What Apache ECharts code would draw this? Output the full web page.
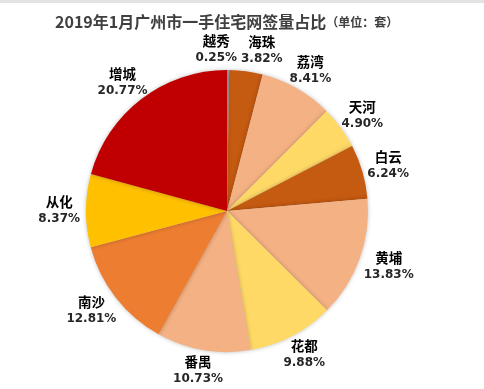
<!DOCTYPE html>
<html><head><meta charset="utf-8">
<script src="https://cdn.jsdelivr.net/npm/echarts@6/dist/echarts.min.js"></script>
<style>html,body{margin:0;padding:0;background:#fff;}#c{width:484px;height:389px;border-top:3px solid #e3e3e3;box-sizing:border-box;}</style>
</head><body><div id="c"></div>
<script>
const categories = ['越秀','海珠','荔湾','天河','白云','黄埔','花都','番禺','南沙','从化','增城'];
const shares = [0.25, 3.82, 8.41, 4.90, 6.24, 13.83, 9.88, 10.73, 12.81, 8.37, 20.77];
const colors = ['#9aa6b8','#c55a11','#f4b183','#ffd966','#c55a11','#f4b183','#ffd966','#f4b183','#ed7d31','#ffc000','#c00000'];

const CX = 227, CY = 208, R = 141, GAP = 6, LINE_H = 17;
const NAME_FONT = 'bold 13.5px "Noto Sans CJK SC"';
const PCT_FONT = 'bold 12px "DejaVu Sans"';
const total = shares.reduce((a,b)=>a+b,0);

// measure label sizes
const ctx = document.createElement('canvas').getContext('2d');
function tw(t,f){ ctx.font=f; return ctx.measureText(t).width; }
const pos = [];
let acc = 0;
shares.forEach((v,i)=>{
  const a = (acc + v/2)/total*2*Math.PI; acc += v;
  const dx = Math.sin(a), dy = -Math.cos(a);
  const w = Math.max(tw(categories[i],NAME_FONT), tw(v.toFixed(2)+'%',PCT_FONT));
  const h = LINE_H*2 - 4;
  pos.push({x: CX+(R+GAP)*dx+dx*w/2, y: CY+(R+GAP)*dy+dy*h/2, w:w, h:h});
});
// resolve overlaps between neighbouring labels (push apart horizontally)
for (let it=0; it<5; it++){
  for (let i=0;i<pos.length;i++){
    const p=pos[i], q=pos[(i+1)%pos.length];
    const ox = (p.w+q.w)/2 + 4 - Math.abs(p.x-q.x);
    const oy = (p.h+q.h)/2 - Math.abs(p.y-q.y);
    if (ox>0 && oy>0){
      const s = p.x<=q.x ? 1 : -1;
      p.x -= s*ox/2; q.x += s*ox/2;
    }
  }
}

const chart = echarts.init(document.getElementById('c'), null, {renderer:'canvas'});
const pieData = categories.map((n,i)=>({name:n, value:shares[i], itemStyle:{color:colors[i]}}));
chart.setOption({
  animation:false,
  title:{
    text:'{a|2019年1月广州市一手住宅网签量占比}{b|（单位：套）}',
    left:50, top:6,
    textStyle:{rich:{
      a:{fontSize:16,fontWeight:'bold',color:'#404040',fontFamily:'Noto Sans CJK SC'},
      b:{fontSize:12,fontWeight:'bold',color:'#404040',fontFamily:'Noto Sans CJK SC'}
    }}
  },
  series:[
    {
      type:'pie', center:[CX,CY], radius:R, startAngle:90, clockwise:true,
      silent:true, avoidLabelOverlap:false,
      labelLine:{show:false, length:0, length2:0},
      itemStyle:{borderWidth:0, shadowBlur:4, shadowColor:'rgba(0,0,0,0.25)'},
      label:{
        show:true, position:'outside', textBorderWidth:0,
        formatter:p=>'{n|'+p.name+'}\n{v|'+p.value.toFixed(2)+'%}',
        rich:{
          n:{fontSize:13.5,fontWeight:'bold',color:'#000',fontFamily:'Noto Sans CJK SC',lineHeight:LINE_H,align:'center'},
          v:{fontSize:12,fontWeight:'bold',color:'#262626',fontFamily:'DejaVu Sans',lineHeight:LINE_H,align:'center'}
        }
      },
      labelLayout:function(params){
        const p = pos[params.dataIndex];
        return {x:p.x, y:p.y, align:'center', verticalAlign:'middle'};
      },
      data:pieData
    }
  ]
});
</script></body></html>
